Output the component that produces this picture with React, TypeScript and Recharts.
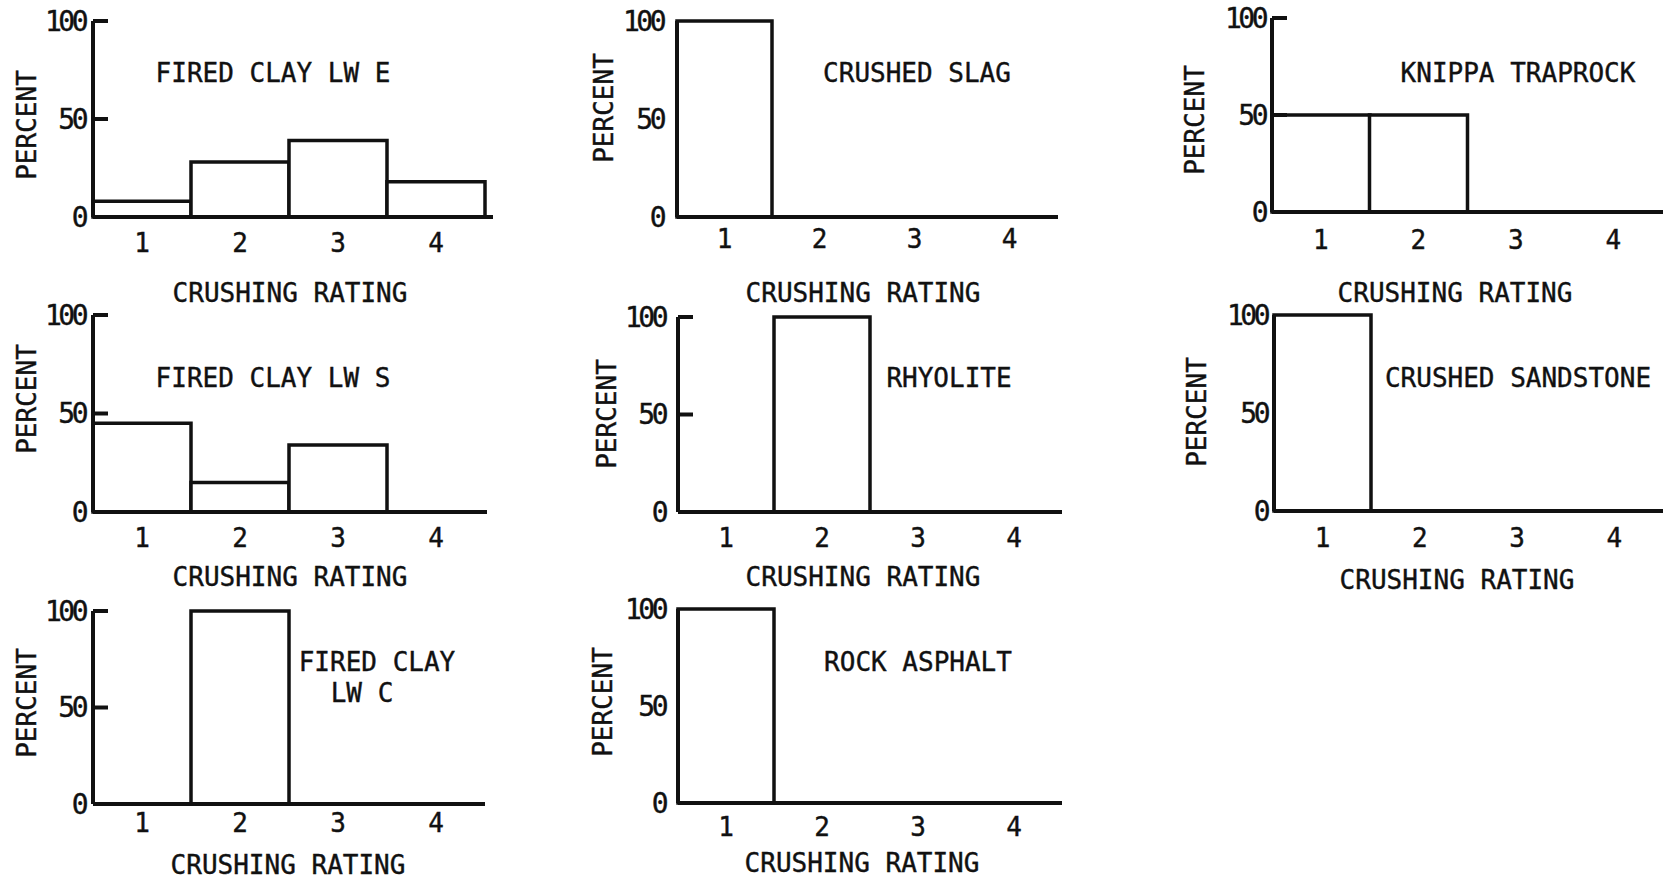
import React from "react";
import { BarChart, Bar, XAxis, YAxis } from "recharts";

// crushing rating categories shared by every panel
const ratings = ["1", "2", "3", "4"];
const yTicks = [0, 50, 100];

// percent of particles in each crushing rating
const firedClayE = [8, 28, 39, 18];
const crushedSlag = [100, 0, 0, 0];
const knippaTraprock = [50, 50, 0, 0];
const firedClayS = [45, 15, 34, 0];
const rhyolite = [0, 100, 0, 0];
const crushedSandstone = [100, 0, 0, 0];
const firedClayC = [0, 100, 0, 0];
const rockAsphalt = [100, 0, 0, 0];

const FONT = '"DejaVu Sans Mono", "Liberation Mono", monospace';
const INK = "#111";

type TitleLine = { text: string; x: number; y: number };

type PanelSpec = {
  values: number[];
  titles: TitleLine[];
  // page coordinates of the plot frame
  x0: number;
  x1: number;
  catEnd: number;
  yTop: number;
  yZero: number;
  ticks: boolean;
  yGap: number;
  xGap: number;
  ylab: [number, number];
  xlab: [number, number];
};

const panels: PanelSpec[] = [
  {
    values: firedClayE,
    titles: [{ text: "FIRED CLAY LW E", x: 273, y: 73 }],
    x0: 93, x1: 493, catEnd: 485, yTop: 21, yZero: 217,
    ticks: true, yGap: 8, xGap: 17, ylab: [27, 125], xlab: [290, 293],
  },
  {
    values: crushedSlag,
    titles: [{ text: "CRUSHED SLAG", x: 917, y: 73 }],
    x0: 677, x1: 1058, catEnd: 1057, yTop: 21, yZero: 217,
    ticks: false, yGap: 14, xGap: 13, ylab: [604, 108], xlab: [863, 293],
  },
  {
    values: knippaTraprock,
    titles: [{ text: "KNIPPA TRAPROCK", x: 1518, y: 73 }],
    x0: 1272, x1: 1663, catEnd: 1662, yTop: 18, yZero: 212,
    ticks: true, yGap: 7, xGap: 19, ylab: [1195, 120], xlab: [1455, 293],
  },
  {
    values: firedClayS,
    titles: [{ text: "FIRED CLAY LW S", x: 273, y: 378 }],
    x0: 93, x1: 487, catEnd: 485, yTop: 315, yZero: 512,
    ticks: true, yGap: 8, xGap: 17, ylab: [27, 399], xlab: [290, 577],
  },
  {
    values: rhyolite,
    titles: [{ text: "RHYOLITE", x: 949, y: 378 }],
    x0: 678, x1: 1062, catEnd: 1062, yTop: 317, yZero: 512,
    ticks: true, yGap: 13, xGap: 17, ylab: [607, 414], xlab: [863, 577],
  },
  {
    values: crushedSandstone,
    titles: [{ text: "CRUSHED SANDSTONE", x: 1518, y: 378 }],
    x0: 1274, x1: 1663, catEnd: 1663, yTop: 315, yZero: 511,
    ticks: false, yGap: 7, xGap: 18, ylab: [1197, 412], xlab: [1457, 580],
  },
  {
    values: firedClayC,
    titles: [
      { text: "FIRED CLAY", x: 377, y: 662 },
      { text: "LW C", x: 362, y: 693 },
    ],
    x0: 93, x1: 485, catEnd: 485, yTop: 611, yZero: 804,
    ticks: true, yGap: 8, xGap: 10, ylab: [27, 703], xlab: [288, 865],
  },
  {
    values: rockAsphalt,
    titles: [{ text: "ROCK ASPHALT", x: 918, y: 662 }],
    x0: 678, x1: 1062, catEnd: 1062, yTop: 609, yZero: 803,
    ticks: false, yGap: 13, xGap: 15, ylab: [603, 702], xlab: [862, 863],
  },
];

const Y_AXIS_W = 93;
const TOP_M = 21;
const X_AXIS_H = 95;
const RIGHT_M = 6;

// typewriter-ish lettering, slightly heavier than the plain font
const textStyle = {
  fill: INK,
  fontFamily: FONT,
  fontSize: 26,
  stroke: INK,
  strokeWidth: 0.4,
};

const Panel = ({ p }: { p: PanelSpec }) => {
  const L = p.x0 - Y_AXIS_W;
  const T = p.yTop - TOP_M;
  const width = p.x1 - L + RIGHT_M;
  const height = p.yZero - T + X_AXIS_H;
  const data = ratings.map((r, i) => ({ rating: r, value: p.values[i] }));

  const [ylx, yly] = [p.ylab[0] - L, p.ylab[1] - T];
  const [xlx, xly] = [p.xlab[0] - L, p.xlab[1] - T];

  return (
    <div style={{ position: "absolute", left: L, top: T }}>
      <BarChart
        width={width}
        height={height}
        data={data}
        margin={{ top: TOP_M, right: RIGHT_M, bottom: 0, left: 0 }}
        barCategoryGap={0}
        barGap={0}
      >
        <XAxis
          dataKey="rating"
          height={X_AXIS_H}
          tickLine={false}
          tickSize={0}
          tickMargin={p.xGap}
          padding={{ left: 0, right: p.x1 - p.catEnd }}
          axisLine={{ stroke: INK, strokeWidth: 4 }}
          tick={textStyle}
          label={{
            content: () => (
              <text
                x={xlx}
                y={xly}
                textAnchor="middle"
                dominantBaseline="central"
                {...textStyle}
              >
                CRUSHING RATING
              </text>
            ),
          }}
        />
        <YAxis
          type="number"
          domain={[0, 100]}
          ticks={yTicks}
          width={Y_AXIS_W}
          interval={0}
          tickLine={p.ticks ? { stroke: INK, strokeWidth: 4 } : false}
          tickSize={p.ticks ? -15 : 0}
          tickMargin={p.ticks ? 15 + p.yGap : p.yGap}
          axisLine={{ stroke: INK, strokeWidth: 4 }}
          tick={{ ...textStyle, fontSize: 28, letterSpacing: -3.5 }}
          label={{
            content: () => (
              <text
                x={ylx}
                y={yly}
                transform={`rotate(-90 ${ylx} ${yly})`}
                textAnchor="middle"
                dominantBaseline="central"
                {...textStyle}
              >
                PERCENT
              </text>
            ),
          }}
        />
        <Bar
          dataKey="value"
          fill="#fff"
          stroke={INK}
          strokeWidth={3.5}
          isAnimationActive={false}
        />
        {p.titles.map((t) => (
          <text
            key={t.text}
            x={t.x - L}
            y={t.y - T}
            textAnchor="middle"
            dominantBaseline="central"
            {...textStyle}
          >
            {t.text}
          </text>
        ))}
      </BarChart>
    </div>
  );
};

export default function App() {
  return (
    <div
      style={{
        position: "absolute",
        left: 0,
        top: 0,
        width: 1665,
        height: 880,
        overflow: "hidden",
        background: "#fff",
      }}
    >
      {panels.map((p, i) => (
        <Panel key={i} p={p} />
      ))}
    </div>
  );
}
